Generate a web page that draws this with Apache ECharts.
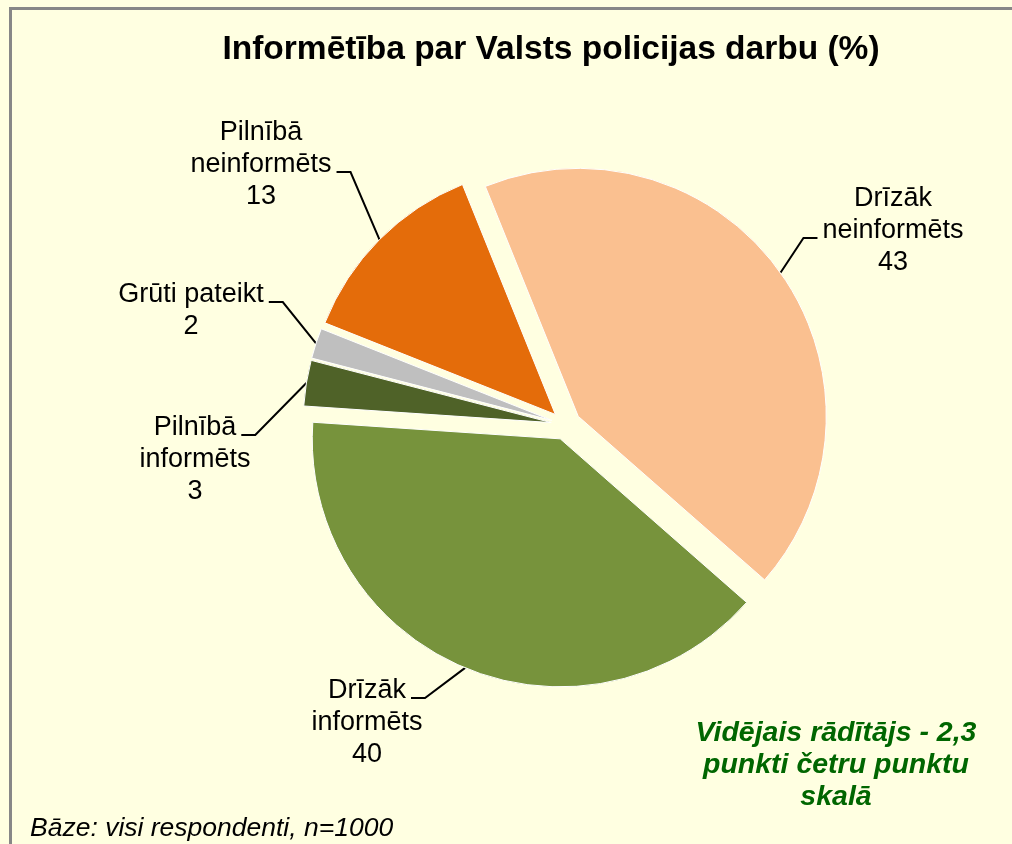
<!DOCTYPE html>
<html>
<head>
<meta charset="utf-8">
<script src="https://cdn.jsdelivr.net/npm/echarts@6/dist/echarts.min.js"></script>
<style>
  html, body { margin: 0; padding: 0; background: #ffffe1; }
  #chart { width: 1012px; height: 844px; }
</style>
</head>
<body>
<div id="chart"></div>
<script>
// slices, clockwise from the top
var categories = ['Drīzāk\nneinformēts', 'Drīzāk\ninformēts', 'Pilnībā\ninformēts', 'Grūti pateikt', 'Pilnībā\nneinformēts'];
var values = [43, 40, 3, 2, 13];
var colors = ['#fac090', '#77933c', '#4f6228', '#bfbfbf', '#e46c0a'];
// label centres (px), hand placed like in the original
var labelSpots = [[893, 231], [367, 723], [195, 460], [191, 311], [261, 165]];
// which text line the leader line meets
var leaderRow = [1, 0, 0, 0, 1];

var FONT = '"Liberation Sans", Arial, sans-serif';
var LABEL_SIZE = 27;
var LINE_H = 32;
var CX = 566, CY = 425, R = 248, START = 112, EXPLODE = 15;

var measure = document.createElement('canvas').getContext('2d');
measure.font = LABEL_SIZE + 'px ' + FONT;
function textW(s) { return measure.measureText(s).width; }

var total = 0;
values.forEach(function (v) { total += v; });

function placeLabel(params) {
  var k = params.dataIndex;
  var a = params.labelLinePoints && params.labelLinePoints[0];
  if (k !== params.seriesIndex || !a) return {};
  var spot = labelSpots[k];
  var lines = (categories[k] + '\n' + values[k]).split('\n');
  var side = a[0] > spot[0] ? 1 : -1;
  var ly = spot[1] + (leaderRow[k] - (lines.length - 1) / 2) * LINE_H + 7;
  var lx = spot[0] + side * (textW(lines[leaderRow[k]]) / 2 + 5);
  return {
    x: spot[0], y: spot[1], align: 'center', verticalAlign: 'middle',
    labelLinePoints: [[a[0], a[1]], [lx + side * 14, ly], [lx, ly]]
  };
}

// every slice gets its own pie series, moved out along its mid angle (exploded pie)
var series = [];
var cum = 0;
for (var i = 0; i < values.length; i++) {
  var mid = (-START + (cum + values[i] / 2) / total * 360) * Math.PI / 180;
  cum += values[i];
  var data = [];
  for (var j = 0; j < values.length; j++) {
    if (j === i) {
      data.push({ name: categories[j], value: values[j], itemStyle: { color: colors[j] } });
    } else {
      data.push({
        name: categories[j], value: values[j],
        itemStyle: { color: 'rgba(0,0,0,0)', borderWidth: 0 },
        label: { show: false }, labelLine: { show: false }
      });
    }
  }
  series.push({
    type: 'pie',
    silent: true,
    center: [CX + EXPLODE * Math.cos(mid), CY + EXPLODE * Math.sin(mid)],
    radius: R,
    startAngle: START,
    clockwise: true,
    avoidLabelOverlap: false,
    itemStyle: { borderColor: '#ffffff', borderWidth: 1 },
    label: {
      show: true,
      position: 'outside',
      formatter: '{b}\n{c}',
      fontFamily: FONT,
      fontSize: LABEL_SIZE,
      lineHeight: LINE_H,
      color: '#000'
    },
    labelLine: {
      show: true,
      length: 20,
      length2: 14,
      lineStyle: { color: '#000', width: 2 }
    },
    labelLayout: placeLabel,
    data: data
  });
}

var chart = echarts.init(document.getElementById('chart'));

chart.setOption({
  backgroundColor: '#ffffe1',
  animation: false,
  graphic: [
    {
      type: 'rect',
      shape: { x: 10.5, y: 8.5, width: 1200, height: 1000 },
      style: { fill: null, stroke: '#878787', lineWidth: 3 }
    },
    {
      type: 'text',
      x: 551, y: 50,
      style: {
        text: 'Informētība par Valsts policijas darbu (%)',
        font: 'bold 33.5px ' + FONT,
        fill: '#000',
        align: 'center',
        verticalAlign: 'middle'
      }
    },
    {
      type: 'text',
      x: 836, y: 765,
      style: {
        text: 'Vidējais rādītājs - 2,3\npunkti četru punktu\nskalā',
        font: 'italic bold 28.5px ' + FONT,
        lineHeight: 32,
        fill: '#006600',
        align: 'center',
        verticalAlign: 'middle'
      }
    },
    {
      type: 'text',
      x: 30, y: 829,
      style: {
        text: 'Bāze: visi respondenti, n=1000',
        font: 'italic 26.5px ' + FONT,
        fill: '#000',
        align: 'left',
        verticalAlign: 'middle'
      }
    }
  ],
  series: series
});
</script>
</body>
</html>
